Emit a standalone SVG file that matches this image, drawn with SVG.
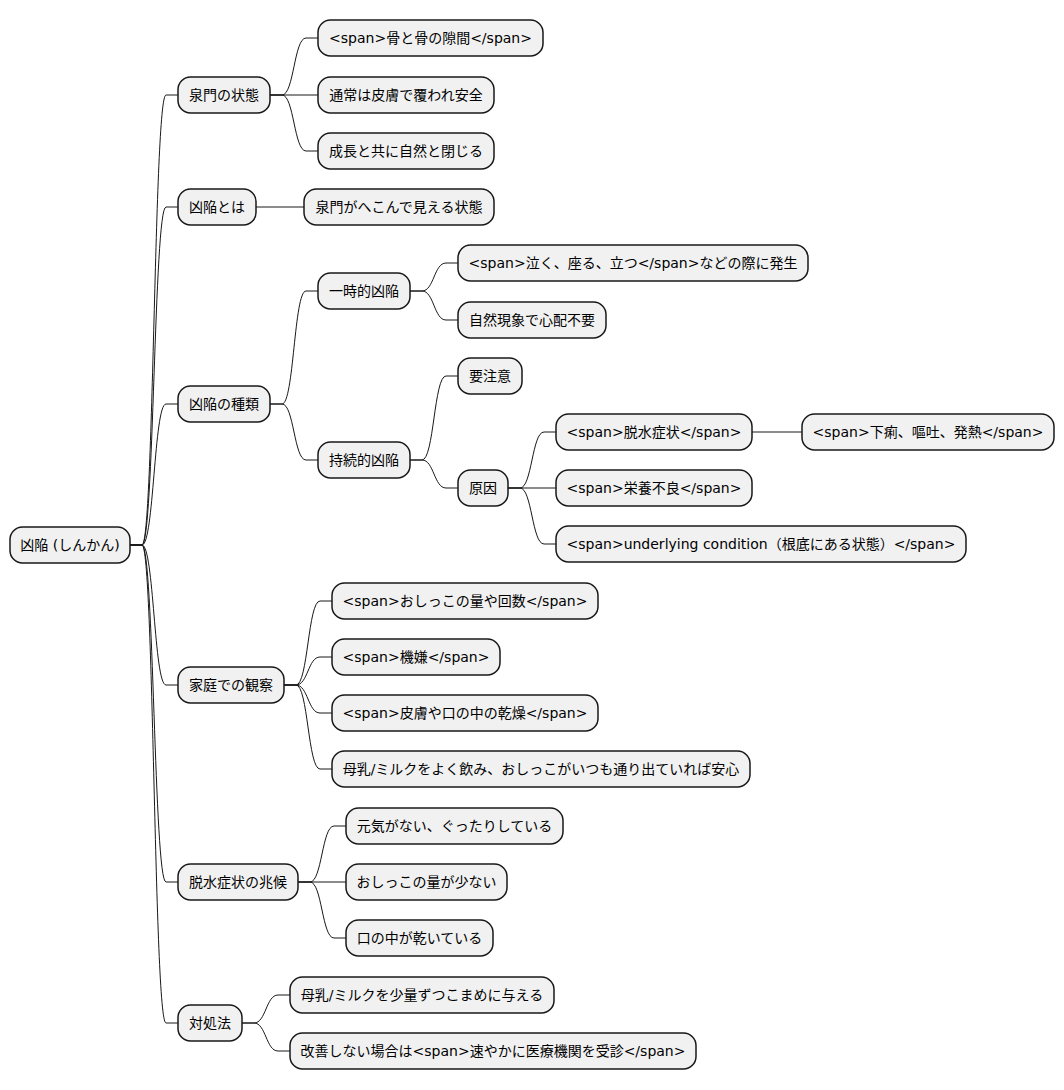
<svg xmlns="http://www.w3.org/2000/svg" width="1064" height="1090" viewBox="0 0 1064 1090">
<style>
.n rect{fill:#F1F1F1;stroke:#181818;stroke-width:1.5}
.n text{font-family:"DejaVu Sans","Noto Sans CJK JP",sans-serif;font-size:14px;fill:#000;text-anchor:middle}
.c path{fill:none;stroke:#181818;stroke-width:1}
</style>
<rect width="1064" height="1090" fill="#FFFFFF"/>
<g class="c">
<path d="M130,545 L142,545 C154,545 154,95 166,95 L178,95"/>
<path d="M130,545 L142,545 C154,545 154,207 166,207 L178,207"/>
<path d="M130,545 L142,545 C154,545 154,404 166,404 L178,404"/>
<path d="M130,545 L142,545 C154,545 154,685 166,685 L178,685"/>
<path d="M130,545 L142,545 C154,545 154,882 166,882 L178,882"/>
<path d="M130,545 L142,545 C154,545 154,1023 166,1023 L178,1023"/>
<path d="M270,95 L282,95 C294,95 294,38 306,38 L318,38"/>
<path d="M270,95 L318,95"/>
<path d="M270,95 L282,95 C294,95 294,151 306,151 L318,151"/>
<path d="M256,207 L304,207"/>
<path d="M270,404 L282,404 C294,404 294,291 306,291 L318,291"/>
<path d="M270,404 L282,404 C294,404 294,460 306,460 L318,460"/>
<path d="M410,291 L422,291 C434,291 434,263 446,263 L458,263"/>
<path d="M410,291 L422,291 C434,291 434,320 446,320 L458,320"/>
<path d="M410,460 L422,460 C434,460 434,376 446,376 L458,376"/>
<path d="M410,460 L422,460 C434,460 434,488 446,488 L458,488"/>
<path d="M508,488 L520,488 C532,488 532,432 544,432 L556,432"/>
<path d="M508,488 L556,488"/>
<path d="M508,488 L520,488 C532,488 532,544 544,544 L556,544"/>
<path d="M752,432 L802,432"/>
<path d="M284,685 L296,685 C308,685 308,601 320,601 L332,601"/>
<path d="M284,685 L296,685 C308,685 308,657 320,657 L332,657"/>
<path d="M284,685 L296,685 C308,685 308,713 320,713 L332,713"/>
<path d="M284,685 L296,685 C308,685 308,769 320,769 L332,769"/>
<path d="M298,882 L310,882 C322,882 322,826 334,826 L346,826"/>
<path d="M298,882 L346,882"/>
<path d="M298,882 L310,882 C322,882 322,938 334,938 L346,938"/>
<path d="M242,1023 L254,1023 C266,1023 266,995 278,995 L290,995"/>
<path d="M242,1023 L254,1023 C266,1023 266,1051 278,1051 L290,1051"/>
</g>
<g id="root" class="n"><rect x="10" y="527" width="120" height="36" rx="12.5"/><text x="70" y="550">凶陥 (しんかん)</text></g>
<g id="n1" class="n"><rect x="178" y="77" width="92" height="36" rx="12.5"/><text x="224" y="100">泉門の状態</text></g>
<g id="n1a" class="n"><rect x="318" y="20" width="225" height="36" rx="12.5"/><text x="430.5" y="43">&lt;span&gt;骨と骨の隙間&lt;/span&gt;</text></g>
<g id="n1b" class="n"><rect x="318" y="77" width="176" height="36" rx="12.5"/><text x="406" y="100">通常は皮膚で覆われ安全</text></g>
<g id="n1c" class="n"><rect x="318" y="133" width="176" height="36" rx="12.5"/><text x="406" y="156">成長と共に自然と閉じる</text></g>
<g id="n2" class="n"><rect x="178" y="189" width="78" height="36" rx="12.5"/><text x="217" y="212">凶陥とは</text></g>
<g id="n2a" class="n"><rect x="304" y="189" width="190" height="36" rx="12.5"/><text x="399" y="212">泉門がへこんで見える状態</text></g>
<g id="n3" class="n"><rect x="178" y="386" width="92" height="36" rx="12.5"/><text x="224" y="409">凶陥の種類</text></g>
<g id="n3a" class="n"><rect x="318" y="273" width="92" height="36" rx="12.5"/><text x="364" y="296">一時的凶陥</text></g>
<g id="n3a1" class="n"><rect x="458" y="245" width="350" height="36" rx="12.5"/><text x="633" y="268">&lt;span&gt;泣く、座る、立つ&lt;/span&gt;などの際に発生</text></g>
<g id="n3a2" class="n"><rect x="458" y="302" width="148" height="36" rx="12.5"/><text x="532" y="325">自然現象で心配不要</text></g>
<g id="n3b" class="n"><rect x="318" y="442" width="92" height="36" rx="12.5"/><text x="364" y="465">持続的凶陥</text></g>
<g id="n3b1" class="n"><rect x="458" y="358" width="64" height="36" rx="12.5"/><text x="490" y="381">要注意</text></g>
<g id="n3b2" class="n"><rect x="458" y="470" width="50" height="36" rx="12.5"/><text x="483" y="493">原因</text></g>
<g id="n3b2a" class="n"><rect x="556" y="414" width="196" height="36" rx="12.5"/><text x="654" y="437">&lt;span&gt;脱水症状&lt;/span&gt;</text></g>
<g id="n3b2a1" class="n"><rect x="802" y="414" width="252" height="36" rx="12.5"/><text x="928" y="437">&lt;span&gt;下痢、嘔吐、発熱&lt;/span&gt;</text></g>
<g id="n3b2b" class="n"><rect x="556" y="470" width="196" height="36" rx="12.5"/><text x="654" y="493">&lt;span&gt;栄養不良&lt;/span&gt;</text></g>
<g id="n3b2c" class="n"><rect x="556" y="526" width="410" height="36" rx="12.5"/><text x="761" y="549">&lt;span&gt;underlying condition（根底にある状態）&lt;/span&gt;</text></g>
<g id="n4" class="n"><rect x="178" y="667" width="106" height="36" rx="12.5"/><text x="231" y="690">家庭での観察</text></g>
<g id="n4a" class="n"><rect x="332" y="583" width="266" height="36" rx="12.5"/><text x="465" y="606">&lt;span&gt;おしっこの量や回数&lt;/span&gt;</text></g>
<g id="n4b" class="n"><rect x="332" y="639" width="168" height="36" rx="12.5"/><text x="416" y="662">&lt;span&gt;機嫌&lt;/span&gt;</text></g>
<g id="n4c" class="n"><rect x="332" y="695" width="266" height="36" rx="12.5"/><text x="465" y="718">&lt;span&gt;皮膚や口の中の乾燥&lt;/span&gt;</text></g>
<g id="n4d" class="n"><rect x="332" y="751" width="418" height="36" rx="12.5"/><text x="541" y="774">母乳/ミルクをよく飲み、おしっこがいつも通り出ていれば安心</text></g>
<g id="n5" class="n"><rect x="178" y="864" width="120" height="36" rx="12.5"/><text x="238" y="887">脱水症状の兆候</text></g>
<g id="n5a" class="n"><rect x="346" y="808" width="217" height="36" rx="12.5"/><text x="454.5" y="831">元気がない、ぐったりしている</text></g>
<g id="n5b" class="n"><rect x="346" y="864" width="161" height="36" rx="12.5"/><text x="426.5" y="887">おしっこの量が少ない</text></g>
<g id="n5c" class="n"><rect x="346" y="920" width="147" height="36" rx="12.5"/><text x="419.5" y="943">口の中が乾いている</text></g>
<g id="n6" class="n"><rect x="178" y="1005" width="64" height="36" rx="12.5"/><text x="210" y="1028">対処法</text></g>
<g id="n6a" class="n"><rect x="290" y="977" width="264" height="36" rx="12.5"/><text x="422" y="1000">母乳/ミルクを少量ずつこまめに与える</text></g>
<g id="n6b" class="n"><rect x="290" y="1033" width="406" height="36" rx="12.5"/><text x="493" y="1056">改善しない場合は&lt;span&gt;速やかに医療機関を受診&lt;/span&gt;</text></g>
</svg>
